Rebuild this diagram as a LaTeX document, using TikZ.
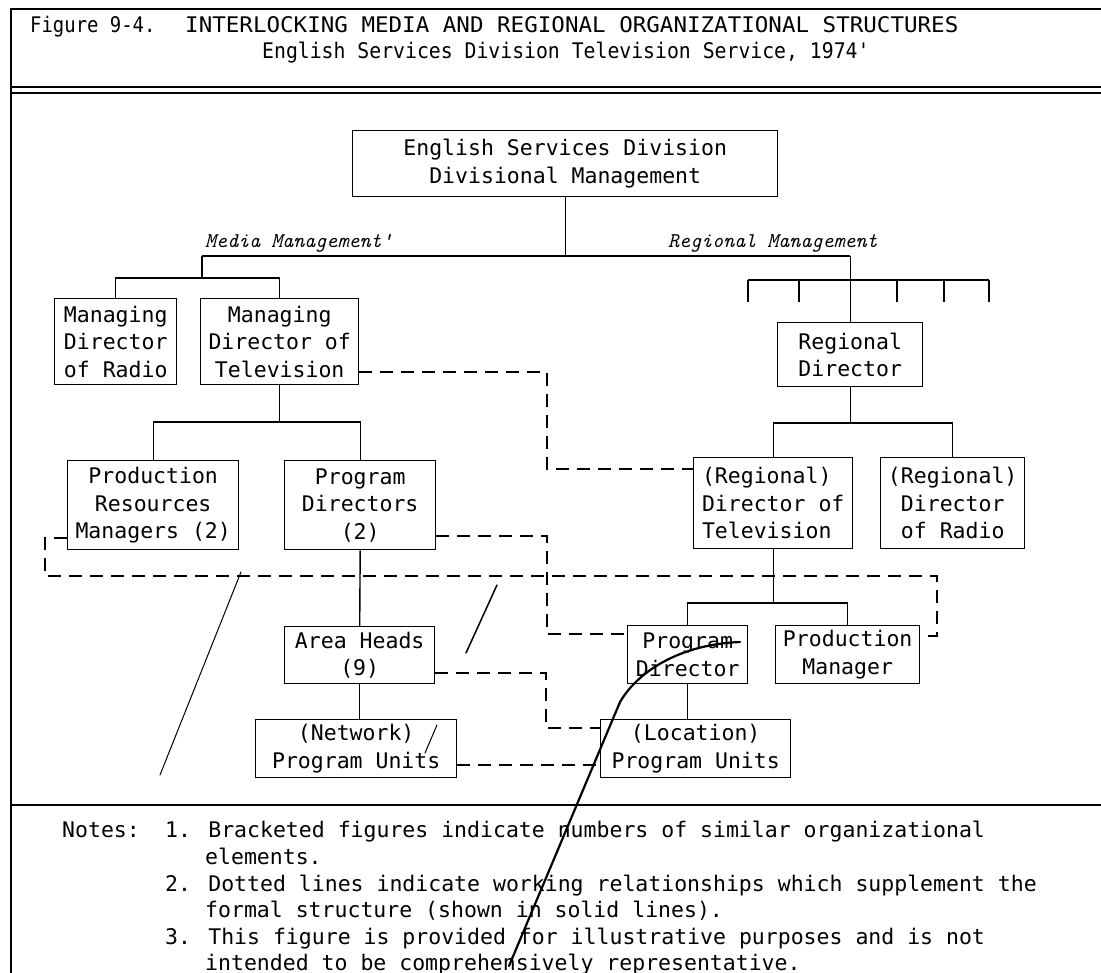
\documentclass[tikz,border=0pt]{standalone}
\usepackage{fontspec}
\usepackage{graphicx}
\newfontfamily\typer{DejaVu Sans Mono}
\newcommand\bodyfont{\typer\fontsize{21.5}{27.5}\selectfont}
\newcommand\labelfont{\ttfamily\itshape\fontsize{21}{21}\selectfont}
\begin{document}
\begin{tikzpicture}[x=1pt,y=-1pt,
  box/.style={draw, line width=1.4pt, inner sep=0pt, align=center, font=\bodyfont, anchor=north west},
  txt/.style={inner sep=0pt, font=\bodyfont, anchor=base west},
  lab/.style={inner sep=0pt, font=\labelfont, anchor=base west},
  org/.style={line width=1.4pt},
  rel/.style={line width=1.4pt, dash pattern=on 13pt off 8pt},
  rule/.style={line width=1.4pt},
  pen/.style={line width=2.2pt, line cap=round},
  scratch/.style={line width=1pt, line cap=round},
]
\useasboundingbox (0,0) rectangle (1101,973);

% ---- frame and title block ----
\draw[rule] (1101,9) -- (11,9) -- (11,973);
\draw[line width=1.1pt] (11,87) -- (1101,87);
\draw[rule] (11,93) -- (1101,93);
\draw[rule] (11,805) -- (1101,805);
\node[txt] (fig) at (30,33) {\scalebox{0.88}[1]{Figure 9-4.}};
\node[txt] (ttl) at (185,33) {\scalebox{1.048}[1]{INTERLOCKING MEDIA AND REGIONAL ORGANIZATIONAL STRUCTURES}};
\node[txt] (sub) at (262,59) {\scalebox{0.92}[1]{English Services Division Television Service, 1974'}};

% ---- boxes ----
\node[box, minimum width=425pt, minimum height=66pt] (esd) at (352,130) {English Services Division\\Divisional Management};
\node[box, minimum width=122pt, minimum height=86pt] (mdr) at (54,298) {Managing\\Director\\of Radio};
\node[box, minimum width=158pt, minimum height=86pt] (mdtv) at (200,298) {Managing\\Director of\\Television};
\node[box, minimum width=171pt, minimum height=89pt] (prm) at (67,460) {Production\\Resources\\Managers (2)};
\node[box, minimum width=151pt, minimum height=89pt] (pd) at (284,460) {Program\\Directors\\(2)};
\node[box, minimum width=150pt, minimum height=57pt] (ah) at (284,626) {Area Heads\\(9)};
\node[box, minimum width=201pt, minimum height=58pt] (net) at (255,719) {(Network)\\Program Units};
\node[box, minimum width=145pt, minimum height=64pt] (rd) at (777,322) {Regional\\Director};
\node[box, minimum width=159pt, minimum height=91pt, align=left] (rdtv) at (693,457) {(Regional)\\Director of\\Television};
\node[box, minimum width=144pt, minimum height=91pt] (rdr) at (880,457) {(Regional)\\Director\\of Radio};
\node[box, minimum width=120pt, minimum height=58pt] (pdir) at (627,625) {Program\\Director};
\node[box, minimum width=144pt, minimum height=58pt] (pm) at (775,625) {Production\\Manager};
\node[box, minimum width=190pt, minimum height=58pt] (loc) at (600,719) {(Location)\\Program Units};

% ---- management labels ----
\node[lab] (mlab) at (205,248) {Media Management'};
\node[lab] (rlab) at (668,248) {Regional Management};

% ---- formal structure ----
\coordinate (mm) at (202,256);
\coordinate (rm) at (rd.north |- mm);
\coordinate (mbar) at (202,278);
\draw[org] (mm) -- (rm);
\draw[org] (esd.south) -- (esd.south |- mm);
\draw[org] (mm) -- (mbar);
\draw[org] (mdr.north) |- (mbar) -| (mdtv.north);
\draw[org] (rm) -- (rd.north);
\coordinate (combL) at (748,280);
\coordinate (combR) at (989,280);
\draw[org] (combL) -- (combR);
\foreach \t in {748,799,897,944,989} \draw[org] (\t,280) -- (\t,302);

\coordinate (tvbar) at (mdtv.south |- 0,422);
\draw[org] (mdtv.south) -- (tvbar);
\draw[org] (prm.north) |- (tvbar) -| (pd.north);
\draw[org] (pd.south) -- (ah.north);
\draw[org] (ah.south) -- (ah.south |- net.north);

\coordinate (rdbar) at (rd.south |- 0,423);
\draw[org] (rd.south) -- (rdbar);
\draw[org] (rdtv.north) |- (rdbar) -| (rdr.north);
\coordinate (rtvbar) at (rdtv.south |- 0,603);
\draw[org] (rdtv.south) -- (rtvbar);
\draw[org] (pdir.north) |- (rtvbar) -| (pm.north);
\draw[org] (pdir.south) -- (pdir.south |- loc.north);

% ---- working relationships ----
\coordinate (d1a) at (547,372);
\coordinate (d1b) at (547,469);
\draw[rel] (d1a -| mdtv.east) -- (d1a) -- (d1b) -- (d1b -| rdtv.west);
\coordinate (d2a) at (547,536);
\coordinate (d2b) at (547,634);
\draw[rel] (d2a -| pd.east) -- (d2a) -- (d2b) -- (d2b -| pdir.west);
\coordinate (d3a) at (45,538);
\coordinate (d3b) at (45,576);
\coordinate (d3c) at (937,576);
\coordinate (d3d) at (937,636);
\draw[rel] (d3a -| prm.west) -- (d3a) -- (d3b) -- (d3c) -- (d3d) -- (d3d -| pm.east);
\coordinate (d4a) at (546,673);
\coordinate (d4b) at (546,728);
\draw[rel] (d4a -| ah.east) -- (d4a) -- (d4b) -- (d4b -| loc.west);
\coordinate (d5) at (500,765);
\draw[rel] (d5 -| net.east) -- (d5 -| loc.west);

% ---- notes ----
\node[txt] (n0) at (62,837) {Notes:};
\node[txt] (n1) at (165,837) {1. Bracketed figures indicate numbers of similar organizational};
\node[txt] (n1b) at (205,864) {elements.};
\node[txt] (n2) at (165,891) {2. Dotted lines indicate working relationships which supplement the};
\node[txt] (n2b) at (205,917) {formal structure (shown in solid lines).};
\node[txt] (n3) at (165,944) {3. This figure is provided for illustrative purposes and is not};
\node[txt] (n3b) at (205,970) {intended to be comprehensively representative.};

% ---- pen strokes across the sheet ----
\draw[pen] (740,642) .. controls (685,644) and (640,668) .. (620,702) -- (509,966);
\draw[scratch] (241,572) -- (160,775);
\draw[scratch, line width=1.5pt] (497,585) -- (466,653);
\draw[scratch] (437,725) -- (425,753);
\end{tikzpicture}
\end{document}
